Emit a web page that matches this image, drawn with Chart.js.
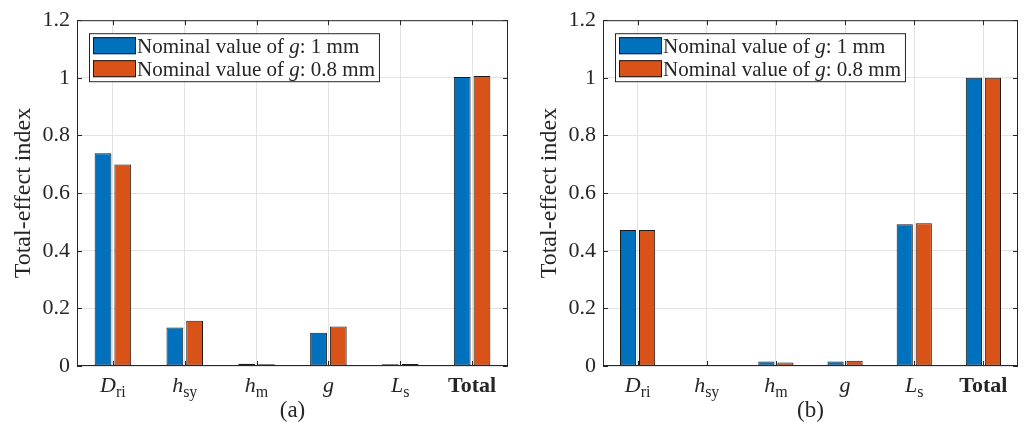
<!DOCTYPE html>
<html>
<head>
<meta charset="utf-8">
<script src="https://cdn.jsdelivr.net/npm/chart.js@4/dist/chart.umd.min.js"></script>
<style>
  html, body { margin: 0; padding: 0; background: #fff; }
  #wrap { position: relative; width: 1026px; height: 427px; }
  .panel { position: absolute; top: 0; width: 513px; height: 427px; }
</style>
</head>
<body>
<div id="wrap">
  <div class="panel" style="left:0"><canvas id="chartA"></canvas></div>
  <div class="panel" style="left:513px"><canvas id="chartB"></canvas></div>
</div>
<script>
// --- data ---
const catMain = ['D', 'h', 'h', 'g', 'L', 'Total'];
const catSub = ['ri', 'sy', 'm', '', 's', ''];
const seriesLabels = ['Nominal value of g: 1 mm', 'Nominal value of g: 0.8 mm'];
const seriesColors = ['#0072BD', '#D95319'];
const yTicks = [0, 0.2, 0.4, 0.6, 0.8, 1, 1.2];

// (a)
const a_g1 = [0.738, 0.134, 0.008, 0.115, 0.006, 1.003];
const a_g08 = [0.699, 0.157, 0.006, 0.137, 0.007, 1.006];
// (b)
const b_g1 = [0.472, 0.002, 0.016, 0.016, 0.492, 1.0];
const b_g08 = [0.472, 0.001, 0.012, 0.018, 0.495, 1.0];

const SERIF = '"Liberation Serif", "Times New Roman", serif';
const AXIS_COLOR = '#262626';
const GRID_COLOR = '#e3e3e3';

// draws text made of runs with different fonts, returns width
function drawRuns(ctx, runs, x, y, measureOnly) {
  let w = 0;
  for (const r of runs) {
    ctx.font = r.font;
    if (!measureOnly) ctx.fillText(r.t, x + w, y + (r.dy || 0));
    w += ctx.measureText(r.t).width;
  }
  return w;
}

function legendRuns(label) {
  // the lone "g" is the math symbol -> italic
  const parts = label.split(/\bg\b/);
  const runs = [];
  parts.forEach((p, i) => {
    if (i > 0) runs.push({ t: 'g', font: 'italic 21px ' + SERIF });
    if (p) runs.push({ t: p, font: '21px ' + SERIF });
  });
  return runs;
}

const figPlugin = {
  id: 'fig',
  afterDraw(chart, args, opts) {
    const { ctx, chartArea: a, scales: { x, y } } = chart;
    ctx.save();

    // axes box
    ctx.strokeStyle = AXIS_COLOR;
    ctx.lineWidth = 1;
    ctx.strokeRect(a.left + 0.5, a.top + 0.5, a.right - a.left - 1, a.bottom - a.top - 1);

    // inward ticks
    ctx.beginPath();
    y.ticks.forEach((t, i) => {
      const py = Math.round(y.getPixelForTick(i)) + 0.5;
      ctx.moveTo(a.left, py); ctx.lineTo(a.left + 5, py);
      ctx.moveTo(a.right, py); ctx.lineTo(a.right - 5, py);
    });
    x.ticks.forEach((t, i) => {
      const px = Math.round(x.getPixelForTick(i)) + 0.5;
      ctx.moveTo(px, a.top); ctx.lineTo(px, a.top + 5);
      ctx.moveTo(px, a.bottom); ctx.lineTo(px, a.bottom - 5);
    });
    ctx.stroke();

    // category labels with subscripts
    ctx.fillStyle = '#262626';
    ctx.textBaseline = 'alphabetic';
    ctx.textAlign = 'left';
    catMain.forEach((m, i) => {
      const runs = [];
      if (m === 'Total') runs.push({ t: m, font: 'bold 22px ' + SERIF });
      else runs.push({ t: m, font: 'italic 22px ' + SERIF });
      if (catSub[i]) runs.push({ t: catSub[i], font: '16px ' + SERIF, dy: 5 });
      const w = drawRuns(ctx, runs, 0, 0, true);
      const cx = x.getPixelForTick(i);
      drawRuns(ctx, runs, cx - w / 2, a.bottom + 26);
    });

    // panel caption
    ctx.font = '23px ' + SERIF;
    ctx.textAlign = 'center';
    ctx.fillText(opts.caption, (a.left + a.right) / 2, a.bottom + 51);
    ctx.textAlign = 'left';

    // legend box
    const ds = chart.data.datasets;
    const lx = a.left + 12, ly = a.top + 13;
    const patchW = 43, patchH = 17, textX = lx + 48;
    let maxW = 0;
    ds.forEach(d => { maxW = Math.max(maxW, drawRuns(ctx, legendRuns(d.label), 0, 0, true)); });
    const boxW = textX - lx + maxW + 4, boxH = 48;
    ctx.fillStyle = '#fff';
    ctx.fillRect(lx, ly, boxW, boxH);
    ctx.strokeStyle = AXIS_COLOR;
    ctx.strokeRect(lx + 0.5, ly + 0.5, boxW, boxH);
    ds.forEach((d, i) => {
      const cy = ly + 12.5 + i * 23;
      ctx.fillStyle = d.backgroundColor;
      ctx.fillRect(lx + 4, cy - patchH / 2, patchW, patchH);
      ctx.strokeStyle = '#1a1a1a';
      ctx.strokeRect(lx + 4.5, cy - patchH / 2 + 0.5, patchW - 1, patchH - 1);
      ctx.fillStyle = '#262626';
      drawRuns(ctx, legendRuns(d.label), textX, cy + 7);
    });

    ctx.restore();
  }
};

function makeChart(id, s1, s2, caption, yWidth, titlePad, rightPad) {
  const labels = catMain.map((m, i) => catSub[i] ? m + '_' + catSub[i] : m);
  const barStyle = { borderColor: '#1a1a1a', borderWidth: 1, borderSkipped: false };
  return new Chart(document.getElementById(id), {
    type: 'bar',
    data: {
      labels: labels,
      datasets: [
        { label: seriesLabels[0], data: s1, backgroundColor: seriesColors[0], ...barStyle },
        { label: seriesLabels[1], data: s2, backgroundColor: seriesColors[1], ...barStyle }
      ]
    },
    options: {
      responsive: true,
      maintainAspectRatio: false,
      animation: false,
      categoryPercentage: 0.55,
      barPercentage: 0.85,
      layout: { padding: { top: 18, right: rightPad, left: 0, bottom: 0 } },
      plugins: {
        legend: { display: false },
        tooltip: { enabled: false },
        fig: { caption: caption }
      },
      scales: {
        x: {
          grid: { color: GRID_COLOR, offset: false, drawTicks: false },
          border: { display: false },
          ticks: { display: false },
          afterFit: s => { s.height = 61; }
        },
        y: {
          min: 0,
          max: 1.2,
          grid: { color: GRID_COLOR, drawTicks: false },
          border: { display: false },
          afterBuildTicks: s => { s.ticks = yTicks.map(v => ({ value: v })); },
          afterFit: s => { s.width = yWidth; },
          ticks: {
            padding: 7,
            color: '#262626',
            font: { family: SERIF, size: 22 },
            callback: v => String(+v.toFixed(1))
          },
          title: {
            display: true,
            text: 'Total-effect index',
            color: '#262626',
            font: { family: SERIF, size: 24 },
            padding: { top: titlePad, bottom: 0 }
          }
        }
      }
    },
    plugins: [figPlugin]
  });
}

makeChart('chartA', a_g1, a_g08, '(a)', 77, 9, 5);
makeChart('chartB', b_g1, b_g08, '(b)', 90, 22, 8);
</script>
</body>
</html>
